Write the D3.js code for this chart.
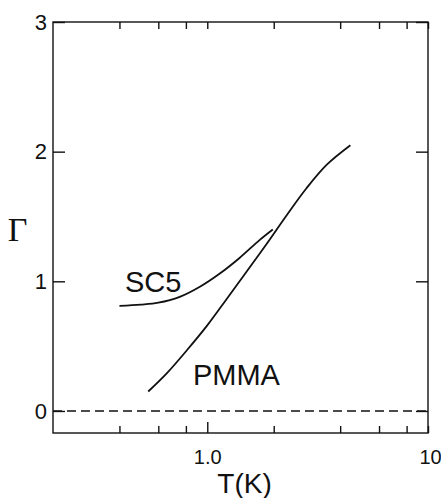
<!DOCTYPE html>
<html>
<head>
<meta charset="utf-8">
<script src="https://cdn.jsdelivr.net/npm/d3@7/dist/d3.min.js"></script>
<style>
  body { margin: 0; background: #fff; }
  text { fill: #111; }
</style>
</head>
<body>
<div id="chart"></div>
<script>
// curves (T in K, gamma)
let sc5T = [0.4, 0.5, 0.6, 0.75, 0.93, 1.14, 1.4, 1.73, 1.98]
let sc5G = [0.81, 0.82, 0.835, 0.88, 0.96, 1.06, 1.18, 1.32, 1.40]

let pmmaT = [0.54, 0.655, 0.81, 1.0, 1.22, 1.5, 1.86, 2.29, 2.82, 3.48, 4.45]
let pmmaG = [0.15, 0.29, 0.47, 0.66, 0.86, 1.07, 1.29, 1.51, 1.72, 1.9, 2.05]

let xTicks = [0.4, 0.6, 0.8, 1, 2, 4, 6, 8, 10]
let xTickLabels = { 1: '1.0', 10: '10' }
let yTicks = [0, 1, 2, 3]

let curveLabels = [
  { name: 'SC5', T: 0.424, g: 0.92 },
  { name: 'PMMA', T: 0.861, g: 0.2 }
]

let margin = { top: 22, left: 53, right: 13, bottom: 65 }
let width = 441 - margin.left - margin.right
let height = 498 - margin.top - margin.bottom

let svg = d3
  .select('#chart')
  .append('svg')
  .attr('width', 441)
  .attr('height', 498)
  .append('g')
  .attr('transform', 'translate(' + margin.left + ',' + margin.top + ')')

let x = d3.scaleLog().domain([0.2, 10]).range([0, width])
let y = d3.scaleLinear().domain([-0.17, 3]).range([height, 0])

let tickFont = 'Liberation Sans, Arial, sans-serif'

// zero line
svg
  .append('line')
  .attr('x1', 0)
  .attr('x2', width)
  .attr('y1', y(0))
  .attr('y2', y(0))
  .attr('stroke', '#111')
  .attr('stroke-width', 1.4)
  .attr('stroke-dasharray', '9,5')

// bottom axis, ticks pointing in
let bottomAxis = svg
  .append('g')
  .attr('transform', 'translate(0,' + height + ')')
  .call(
    d3.axisBottom(x)
      .tickValues(xTicks)
      .tickSizeInner(-7)
      .tickSizeOuter(0)
      .tickPadding(17)
      .tickFormat(d => xTickLabels[d] || '')
  )
bottomAxis.selectAll('line').filter(d => d === 1).attr('y2', -11)

// top axis
svg
  .append('g')
  .call(d3.axisTop(x).tickValues(xTicks).tickSizeInner(-7).tickSizeOuter(0).tickFormat(''))

// left axis with labels
let leftAxis = svg
  .append('g')
  .call(
    d3.axisLeft(y)
      .tickValues(yTicks)
      .tickSizeInner(-12)
      .tickSizeOuter(0)
      .tickPadding(6)
      .tickFormat(d3.format('d'))
  )

// right axis
svg
  .append('g')
  .attr('transform', 'translate(' + width + ',0)')
  .call(d3.axisRight(y).tickValues(yTicks).tickSizeInner(-12).tickSizeOuter(0).tickFormat(''))

svg.selectAll('.domain').remove()
svg.selectAll('.tick line').attr('stroke', '#111').attr('stroke-width', 1.4)
bottomAxis.selectAll('text').attr('font-family', tickFont).attr('font-size', 20).attr('fill', '#111')
leftAxis.selectAll('text').attr('font-family', tickFont).attr('font-size', 22).attr('fill', '#111')
bottomAxis.selectAll('.tick').filter(d => d === 10).select('text').attr('dx', 2)

// frame
svg
  .append('rect')
  .attr('width', width)
  .attr('height', height)
  .attr('fill', 'none')
  .attr('stroke', '#111')
  .attr('stroke-width', 1.4)

let line = d3
  .line()
  .x(d => x(d[0]))
  .y(d => y(d[1]))
  .curve(d3.curveCatmullRom.alpha(0.5))

let series = [d3.zip(sc5T, sc5G), d3.zip(pmmaT, pmmaG)]

svg
  .selectAll('.curve')
  .data(series)
  .enter()
  .append('path')
  .attr('class', 'curve')
  .attr('d', line)
  .attr('fill', 'none')
  .attr('stroke', '#111')
  .attr('stroke-width', 1.8)

svg
  .selectAll('.clabel')
  .data(curveLabels)
  .enter()
  .append('text')
  .attr('class', 'clabel')
  .attr('x', d => x(d.T))
  .attr('y', d => y(d.g))
  .attr('font-family', tickFont)
  .attr('font-size', 29)
  .text(d => d.name)

// axis titles
svg
  .append('text')
  .attr('x', 244.5 - margin.left)
  .attr('y', 493 - margin.top)
  .attr('text-anchor', 'middle')
  .attr('font-family', tickFont)
  .attr('font-size', 28)
  .text('T(K)')

svg
  .append('text')
  .attr('x', 17.5 - margin.left)
  .attr('y', 241 - margin.top)
  .attr('text-anchor', 'middle')
  .attr('font-family', 'Liberation Serif, Times New Roman, serif')
  .attr('font-size', 34)
  .text('Γ')
</script>
</body>
</html>
